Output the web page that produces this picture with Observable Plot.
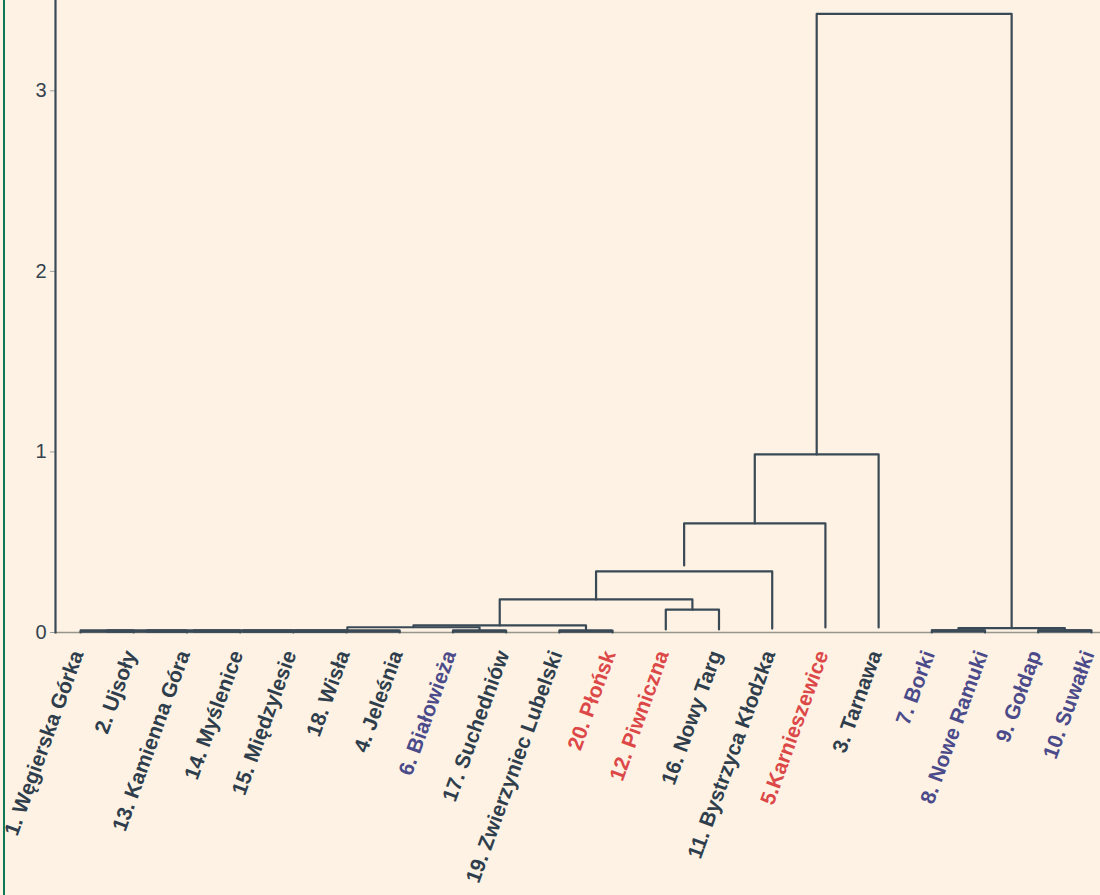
<!DOCTYPE html>
<html>
<head>
<meta charset="utf-8">
<script src="https://cdn.jsdelivr.net/npm/d3@7"></script>
<script src="https://cdn.jsdelivr.net/npm/@observablehq/plot@0.6"></script>
<style>
  html, body { margin: 0; padding: 0; background: #fdf2e3; }
  #wrap { position: relative; width: 1100px; height: 895px; overflow: hidden; }
  #edge { position: absolute; left: 3px; top: 0; width: 1.5px; height: 895px; background: #0e7a55; }
</style>
</head>
<body>
<div id="wrap"><div id="edge"></div></div>
<script>
// Leaves in dendrogram order
const leafLabels = [
  "1. Węgierska Górka", "2. Ujsoły", "13. Kamienna Góra", "14. Myślenice",
  "15. Międzylesie", "18. Wisła", "4. Jeleśnia", "6. Białowieża",
  "17. Suchedniów", "19. Zwierzyniec Lubelski", "20. Płońsk", "12. Piwniczna",
  "16. Nowy Targ", "11. Bystrzyca Kłodzka", "5.Karnieszewice", "3. Tarnawa",
  "7. Borki", "8. Nowe Ramuki", "9. Gołdap", "10. Suwałki"
];
const leafGroup = [
  "a","a","a","a","a","a","a","b","a","a","c","c","a","a","c","a","b","b","b","b"
];
// Merges: children ids (0-19 leaves, 20+k = merge k), merge height,
// and the heights where each vertical branch ends
const mergeA      = [0, 20, 21, 22, 23, 24, 7, 25, 9, 27, 11, 29, 31, 32, 33, 16, 18, 35, 34];
const mergeB      = [1, 2, 3, 4, 5, 6, 8, 26, 10, 28, 12, 30, 13, 14, 15, 17, 19, 36, 37];
const mergeHeight = [0.01, 0.01, 0.01, 0.01, 0.01, 0.01, 0.01, 0.029, 0.01, 0.039, 0.127, 0.183, 0.338, 0.604, 0.986, 0.012, 0.012, 0.024, 3.426];
const bottomA     = [0, 0.01, 0.01, 0.01, 0.01, 0.01, 0, 0.01, 0, 0.029, 0.017, 0.039, 0.183, 0.371, 0.604, 0, 0, 0.012, 0.986];
const bottomB     = [0, 0, 0, 0, 0, 0, 0, 0.01, 0, 0.01, 0.017, 0.127, 0.022, 0.028, 0.028, 0, 0, 0.012, 0.024];
const yTicks = [0, 1, 2, 3];

const groupColor = {a: "#2f3e4c", b: "#4b4a8a", c: "#dc4748"};

// node x positions: leaves at index, merges at mean of children
const nodeX = leafLabels.map((d, i) => i);
mergeA.forEach((a, k) => { nodeX.push((nodeX[a] + nodeX[mergeB[k]]) / 2); });

const linkPts = [];
mergeA.forEach((a, k) => {
  const b = mergeB[k], h = mergeHeight[k];
  linkPts.push({k, x: nodeX[a], y: bottomA[k]});
  linkPts.push({k, x: nodeX[a], y: h});
  linkPts.push({k, x: nodeX[b], y: h});
  linkPts.push({k, x: nodeX[b], y: bottomB[k]});
});
// merges at near-zero height read as heavier bars
const lowMerges = mergeA.map((a, k) => k).filter(k => mergeHeight[k] < 0.02);
const barSegs = lowMerges.map(k => ({x1: nodeX[mergeA[k]], x2: nodeX[mergeB[k]], y: mergeHeight[k]}));

const leaves = leafLabels.map((label, i) => ({i, label, g: leafGroup[i]}));

const chart = Plot.plot({
  width: 1100,
  height: 895,
  marginLeft: 55,
  marginRight: 0,
  marginTop: 0,
  marginBottom: 263,
  style: {background: "#fdf2e3", fontFamily: "'Liberation Sans', Arial, sans-serif", overflow: "visible"},
  x: {domain: [-0.47, 19.17], axis: null},
  y: {domain: [0, 3.5]},
  marks: [
    Plot.axisY({ticks: yTicks, tickFormat: d => String(d), tickSize: 5, tickPadding: 4, fontSize: 20, stroke: "#9aa0a0", color: "#34434f", label: null}),
    Plot.ruleY([0], {stroke: "#98968a", strokeWidth: 1.6}),
    Plot.frame({anchor: "left", stroke: "#3a4956", strokeWidth: 2.2}),
    Plot.line(linkPts, {x: "x", y: "y", z: "k", stroke: "#3a4956", strokeWidth: 2.2, curve: "linear"}),
    Plot.ruleY(barSegs, {x1: "x1", x2: "x2", y: "y", stroke: "#3a4956", strokeWidth: 3.2, dy: 0.5}),
    Plot.text(leaves, {
      x: "i", y: 0, text: "label",
      rotate: -70, textAnchor: "end", lineAnchor: "middle",
      dy: 19, dx: -3,
      fontSize: 21, fontWeight: "bold",
      fill: d => groupColor[d.g]
    })
  ]
});
document.getElementById("wrap").prepend(chart);
</script>
</body>
</html>
